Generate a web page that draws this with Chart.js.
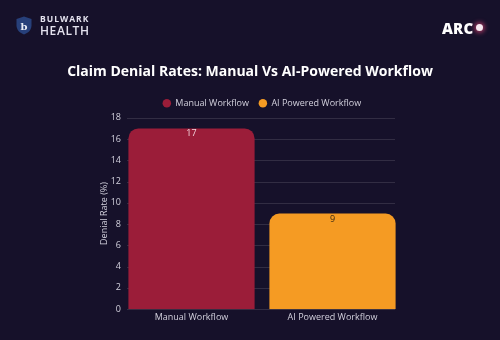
<!DOCTYPE html>
<html>
<head>
<meta charset="utf-8">
<script src="https://cdn.jsdelivr.net/npm/chart.js@4"></script>
<style>
  html, body { margin: 0; padding: 0; background: #16112a; }
  .wrap { position: relative; width: 500px; height: 340px; overflow: hidden; font-family: "Open Sans", "Noto Sans", sans-serif; }
  canvas { position: absolute; left: 0; top: 0; }
  .brand { position: absolute; left: 16px; top: 15px; display: flex; align-items: center; }
  .brand-text { margin-left: 8px; color: #e4e2ee; line-height: 1; }
  .brand-text .b1 { font-size: 8.5px; font-weight: 700; letter-spacing: 1px; }
  .brand-text .b2 { font-size: 12px; font-weight: 600; letter-spacing: 0.6px; margin-top: 1px; }
  .arc { position: absolute; left: 442px; top: 18px; color: #fff; font-size: 15px; font-weight: 800; letter-spacing: 0.2px; }
  .arc-dot { position: absolute; left: 476px; top: 24px; width: 7px; height: 7px; border-radius: 50%;
    background: #f6e8ef; box-shadow: 0 0 4px 2px rgba(230, 70, 120, 0.6); }
</style>
</head>
<body>
<div class="wrap">
  <canvas id="chart" width="500" height="340"></canvas>
  <div class="brand">
    <svg width="16" height="19" viewBox="0 0 16 19">
      <path d="M8 0.5 L15.5 3 L15.5 9.5 C15.5 14 12 17 8 18.5 C4 17 0.5 14 0.5 9.5 L0.5 3 Z" fill="#27407a"/>
      <text x="8" y="13.5" text-anchor="middle" font-size="10" font-weight="700" fill="#e8ecf6" font-family="DejaVu Serif, serif">b</text>
    </svg>
    <div class="brand-text">
      <div class="b1">BULWARK</div>
      <div class="b2">HEALTH</div>
    </div>
  </div>
  <div class="arc">ARC</div>
  <div class="arc-dot"></div>
</div>
<script>
const categories = ['Manual Workflow', 'AI Powered Workflow'];
const denialRates = [17, 9];
const barColors = ['#9b1d39', '#f59b23'];
const labelColors = ['#f3d7de', '#3b2a12'];

const FONT = '"Open Sans", "Noto Sans", sans-serif';
const TEXT = '#d2d0dc';

// horizontal grid lines, a little shorter than the plot area
const insetGrid = {
  id: 'insetGrid',
  beforeDatasetsDraw(chart) {
    const { ctx, chartArea, scales } = chart;
    ctx.save();
    ctx.strokeStyle = 'rgba(255,255,255,0.12)';
    ctx.lineWidth = 1;
    scales.y.ticks.forEach(t => {
      const y = Math.round(scales.y.getPixelForValue(t.value)) + 0.5;
      ctx.beginPath();
      ctx.moveTo(chartArea.left + 6, y);
      ctx.lineTo(chartArea.right - 8, y);
      ctx.stroke();
    });
    ctx.restore();
  }
};

// writes the value inside the top of each bar
const valueLabels = {
  id: 'valueLabels',
  afterDatasetsDraw(chart) {
    const ctx = chart.ctx;
    const meta = chart.getDatasetMeta(0);
    ctx.save();
    ctx.font = '9px ' + FONT;
    ctx.textAlign = 'center';
    ctx.textBaseline = 'top';
    meta.data.forEach((bar, i) => {
      ctx.fillStyle = labelColors[i];
      ctx.fillText(String(denialRates[i]), bar.x, bar.y + 1);
    });
    ctx.restore();
  }
};

new Chart(document.getElementById('chart'), {
  type: 'bar',
  data: {
    labels: categories,
    datasets: [{
      label: 'Denial Rate',
      data: denialRates,
      backgroundColor: barColors,
      borderRadius: 10,
      borderSkipped: 'bottom',
      categoryPercentage: 1.0,
      barPercentage: 0.895
    }]
  },
  options: {
    responsive: false,
    animation: false,
    devicePixelRatio: 1,
    layout: { padding: { top: 54, left: 0, right: 0, bottom: 14 } },
    scales: {
      x: {
        grid: { display: false, drawTicks: false },
        border: { display: false },
        ticks: { color: TEXT, font: { size: 9, family: FONT }, padding: 3 }
      },
      y: {
        min: 0,
        max: 18,
        ticks: { stepSize: 2, color: TEXT, font: { size: 9, family: FONT }, padding: 0 },
        grid: { display: false, drawTicks: false },
        border: { display: false },
        title: {
          display: true,
          text: 'Denial Rate (%)',
          color: TEXT,
          font: { size: 9, family: FONT },
          padding: { top: 99, bottom: 4 }
        },
        afterFit: (s) => { s.width = 121; }
      },
      // empty axis that only holds the gap on the right
      gap: {
        type: 'linear',
        position: 'right',
        display: true,
        grid: { display: false, drawTicks: false },
        border: { display: false },
        ticks: { display: false },
        afterFit: (s) => { s.width = 97; }
      }
    },
    plugins: {
      title: {
        display: true,
        text: 'Claim Denial Rates: Manual Vs AI-Powered Workflow',
        color: '#ffffff',
        font: { size: 14, weight: 'bold', family: FONT },
        padding: { top: 10, bottom: 8 },
        fullSize: true
      },
      legend: {
        position: 'top',
        fullSize: false,
        labels: {
          generateLabels: () => categories.map((c, i) => ({
            text: c,
            fillStyle: barColors[i],
            strokeStyle: barColors[i],
            fontColor: TEXT,
            lineWidth: 0,
            pointStyle: 'circle',
            hidden: false,
            index: i
          })),
          usePointStyle: true,
          boxWidth: 8,
          boxHeight: 6,
          color: TEXT,
          font: { size: 9, family: FONT },
          padding: 10
        },
        onClick: () => {}
      },
      tooltip: { enabled: false }
    }
  },
  plugins: [insetGrid, valueLabels]
});
</script>
</body>
</html>
